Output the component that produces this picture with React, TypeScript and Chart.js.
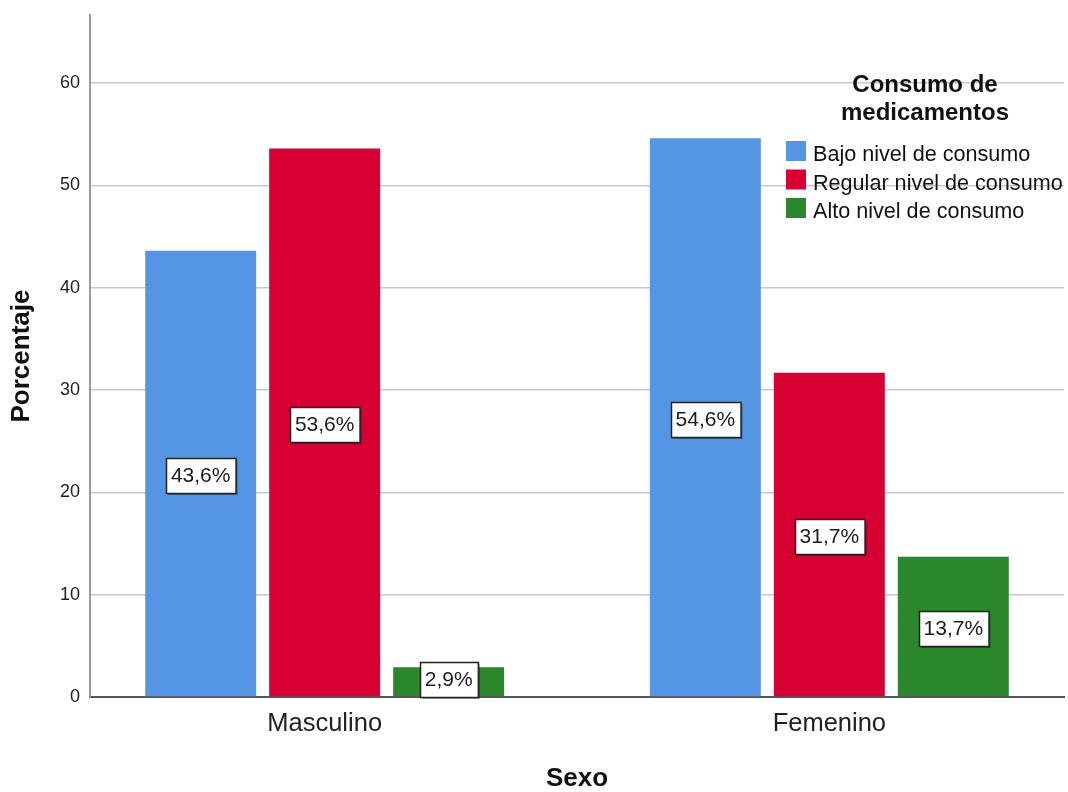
import React, { useEffect, useRef } from "react";
import { Chart, registerables } from "chart.js";

Chart.register(...registerables);

const categories = ["Masculino", "Femenino"];
const seriesNames = ["Bajo nivel de consumo", "Regular nivel de consumo", "Alto nivel de consumo"];
const bajo = [43.6, 54.6];
const regular = [53.6, 31.7];
const alto = [2.9, 13.7];
const seriesColors = ["#5596E4", "#D60032", "#2A872C"];
const yTicks = [0, 10, 20, 30, 40, 50, 60];
const legendTitle = ["Consumo de", "medicamentos"];
const xTitle = "Sexo";
const yTitle = "Porcentaje";

const FONT = "'Liberation Sans', Arial, sans-serif";

const fmt = (v: number) => v.toFixed(1).replace(".", ",") + "%";

// Boxed percentage labels centred on each bar
const valueLabels = {
  id: "valueLabels",
  afterDatasetsDraw(chart: any) {
    const ctx = chart.ctx;
    const bottom = chart.chartArea.bottom;
    ctx.save();
    ctx.font = `21px ${FONT}`;
    ctx.textAlign = "center";
    ctx.textBaseline = "middle";
    chart.data.datasets.forEach((ds: any, di: number) => {
      const meta = chart.getDatasetMeta(di);
      meta.data.forEach((bar: any, i: number) => {
        const text = fmt(ds.data[i].y);
        const w = ctx.measureText(text).width + 10;
        const h = 35;
        let cy = (bar.y + bar.base) / 2 + 2;
        if (cy + h / 2 > bottom) cy = bottom - h / 2;
        const x0 = Math.round(bar.x - w / 2) + 0.5;
        const y0 = Math.round(cy - h / 2) + 0.5;
        ctx.fillStyle = "rgba(0,0,0,0.35)";
        ctx.fillRect(x0 + 1.5, y0 + 1.5, w, h);
        ctx.fillStyle = "#FFFFFF";
        ctx.fillRect(x0, y0, w, h);
        ctx.strokeStyle = "#222222";
        ctx.lineWidth = 1.5;
        ctx.strokeRect(x0, y0, w, h);
        ctx.fillStyle = "#1a1a1a";
        ctx.fillText(text, bar.x, cy + 1);
      });
    });
    ctx.restore();
  },
};

// Legend with a two-line bold title in the upper right of the plot
const plotLegend = {
  id: "plotLegend",
  afterDraw(chart: any) {
    const ctx = chart.ctx;
    const right = chart.chartArea.right;
    ctx.save();
    ctx.fillStyle = "#111111";
    ctx.font = `bold 24px ${FONT}`;
    ctx.textAlign = "center";
    ctx.textBaseline = "alphabetic";
    legendTitle.forEach((line, i) => {
      ctx.fillText(line, right - 139, 92 + i * 28);
    });
    ctx.font = `21.6px ${FONT}`;
    ctx.textAlign = "left";
    chart.data.datasets.forEach((ds: any, i: number) => {
      const base = 161 + i * 28.5;
      ctx.fillStyle = ds.backgroundColor;
      ctx.fillRect(right - 278, base - 20, 20, 20);
      ctx.fillStyle = "#111111";
      ctx.fillText(ds.label, right - 251, base);
    });
    ctx.restore();
  },
};

export default function App() {
  const ref = useRef<HTMLCanvasElement>(null);

  useEffect(() => {
    const series = [bajo, regular, alto];
    const chart = new Chart(ref.current!, {
      type: "bar",
      data: {
        datasets: series.map((vals, si) => ({
          label: seriesNames[si],
          data: vals.map((v, i) => ({ x: i, y: v })),
          backgroundColor: seriesColors[si],
          borderWidth: 0,
          barPercentage: 0.895,
          categoryPercentage: 0.737,
        })),
      },
      options: {
        responsive: false,
        animation: false,
        layout: { padding: { top: 15, right: 4, left: 0, bottom: 0 } },
        plugins: {
          legend: { display: false },
          tooltip: { enabled: false },
        },
        scales: {
          x: {
            type: "linear",
            offset: false,
            min: -0.465,
            max: 1.465,
            afterBuildTicks: (scale: any) => {
              scale.ticks = categories.map((_, i) => ({ value: i }));
            },
            afterFit: (scale: any) => {
              scale.height = 95;
              scale.paddingLeft = 0;
              scale.paddingRight = 0;
            },
            grid: { display: false, drawTicks: false, offset: false },
            border: { display: true, color: "#555555", width: 2 },
            ticks: {
              padding: 12,
              color: "#222222",
              font: { family: FONT, size: 25.5 },
              callback: (v: any) => categories[v] ?? "",
            },
            title: {
              display: true,
              text: xTitle,
              color: "#111111",
              font: { family: FONT, size: 26, weight: "bold", lineHeight: 1 },
              padding: { top: 0, bottom: 0 },
            },
          },
          y: {
            min: 0,
            max: 66.65,
            afterBuildTicks: (scale: any) => {
              scale.ticks = yTicks.map((v) => ({ value: v }));
            },
            afterFit: (scale: any) => {
              scale.width = 90;
              scale.paddingTop = 0;
              scale.paddingBottom = 0;
            },
            grid: { color: "#C8C8C8", lineWidth: 1.5, drawTicks: false },
            border: { display: true, color: "#9A9A9A", width: 2 },
            ticks: {
              padding: 10,
              color: "#222222",
              font: { family: FONT, size: 18 },
            },
            title: {
              display: true,
              text: yTitle,
              color: "#111111",
              font: { family: FONT, size: 26, weight: "bold", lineHeight: 1.2 },
              padding: { top: 6, bottom: 0 },
            },
          },
        },
      },
      plugins: [valueLabels, plotLegend],
    } as any);
    return () => chart.destroy();
  }, []);

  return (
    <div style={{ position: "fixed", left: 0, top: 0, width: 1068, height: 792, background: "#FFFFFF" }}>
      <canvas ref={ref} width={1068} height={792} style={{ display: "block" }} />
    </div>
  );
}
